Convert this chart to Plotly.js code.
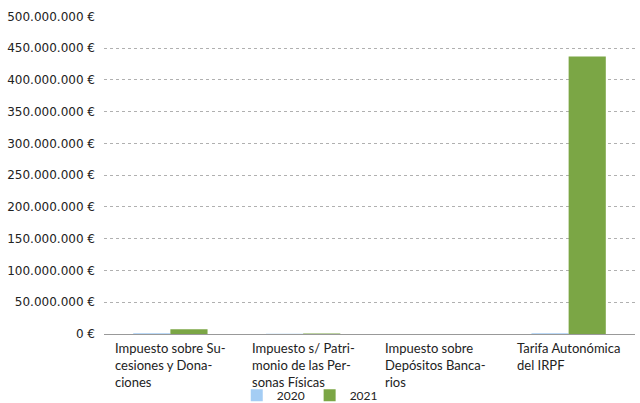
<!DOCTYPE html>
<html>
<head>
<meta charset="utf-8">
<script src="https://cdn.plot.ly/plotly-3.0.1.min.js"></script>
<style>html,body{margin:0;padding:0;background:#fff}#chart{width:640px;height:403px}</style>
</head>
<body>
<div id="chart"></div>
<script>
const categories = ["Impuesto sobre Sucesiones y Donaciones", "Impuesto s/ Patrimonio de las Personas Físicas", "Impuesto sobre Depósitos Bancarios", "Tarifa Autonómica del IRPF"];
const categoryLabels = ["Impuesto sobre Su-<br>cesiones y Dona-<br>ciones", "Impuesto s/ Patri-<br>monio de las Per-<br>sonas Físicas", "Impuesto sobre<br>Depósitos Banca-<br>rios", "Tarifa Autonómica<br>del IRPF"];
const values2020 = [1300000, 300000, 100000, 1200000];
const values2021 = [7500000, 900000, 100000, 437000000];
const seriesNames = ["2020", "2021"];

const traces = [
  {type: 'bar', name: seriesNames[0], x: categories, y: values2020, marker: {color: '#a4cdf4'}},
  {type: 'bar', name: seriesNames[1], x: categories, y: values2021, marker: {color: '#7ba645'}}
];

const annotations = categories.map((c, i) => ({
  x: c, xref: 'x', y: 0, yref: 'paper', yanchor: 'top', yshift: -4,
  text: categoryLabels[i], showarrow: false, align: 'left',
  font: {family: 'Lato, sans-serif', size: 13, color: '#222'}
}));

const layout = {
  width: 640, height: 403,
  margin: {l: 104, r: 5, t: 16, b: 69, autoexpand: false},
  paper_bgcolor: '#fff', plot_bgcolor: '#fff',
  separators: ',.',
  barmode: 'group', bargap: 0.44, bargroupgap: 0,
  showlegend: true,
  legend: {orientation: 'h', x: 0.25, xanchor: 'left', y: -0.147, yanchor: 'top',
    font: {family: 'Lato, sans-serif', size: 12, color: '#222'}, itemwidth: 30, tracegroupgap: 0},
  xaxis: {type: 'category', showticklabels: false, showgrid: false, zeroline: false, showline: false, ticks: ''},
  yaxis: {range: [0, 500700000], tick0: 0, dtick: 50000000,
    tickformat: ',d', ticksuffix: ' €',
    showgrid: true, gridcolor: '#b0b0b0', griddash: 'dot', gridwidth: 1,
    zeroline: true, zerolinecolor: '#999', zerolinewidth: 1, showline: false, ticks: '',
    ticklabelstandoff: 8,
    tickfont: {family: 'DejaVu Sans, sans-serif', size: 12, color: '#222'}},
  annotations: annotations
};

Plotly.newPlot('chart', traces, layout, {displayModeBar: false, staticPlot: true});
</script>
</body>
</html>
